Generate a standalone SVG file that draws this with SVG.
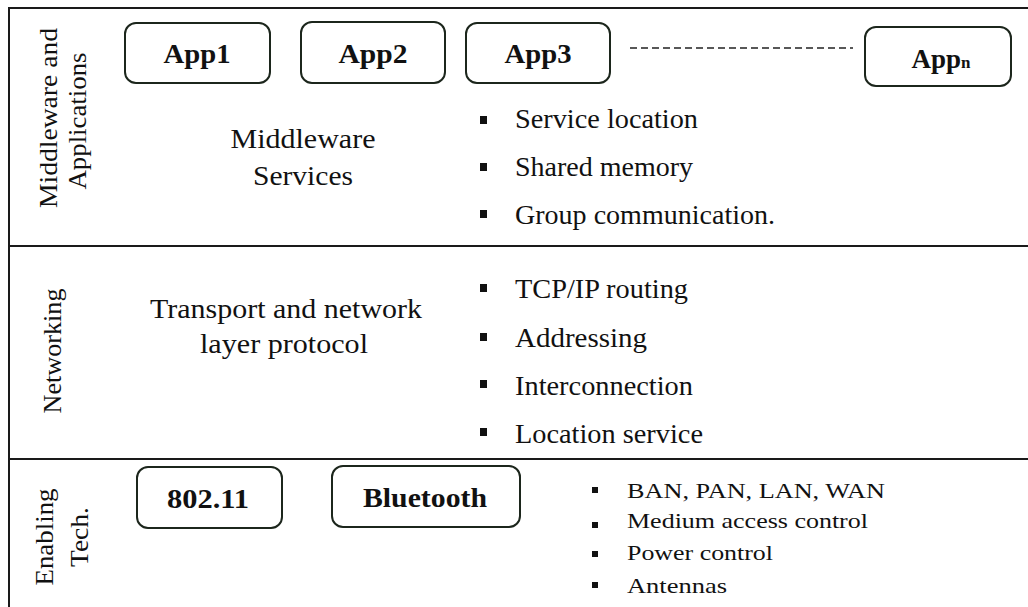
<svg xmlns="http://www.w3.org/2000/svg" width="1028" height="607" viewBox="0 0 1028 607">
  <defs>
    <style>
      .frame { stroke: #1a1a1a; stroke-width: 2; fill: none; }
      .box { fill: #ffffff; stroke: #1c261c; stroke-width: 2; }
      .serif { font-family: 'Liberation Serif', 'Times New Roman', serif; fill: #111; }
      .boxlabel { font-weight: bold; font-size: 27px; text-anchor: middle; }
      .side { font-size: 25px; text-anchor: middle; }
      .body { font-size: 26.5px; }
      .center { text-anchor: middle; }
      .small { font-size: 22px; }
      .bullet { fill: #111; }
      .dash { stroke: #222; stroke-width: 1.6; stroke-dasharray: 7 4; fill: none; }
    </style>
  </defs>
  <rect width="1028" height="607" fill="#ffffff"/>

  <!-- layer frame and dividers -->
  <g id="frame">
    <path class="frame" d="M9 607 V8 H1028"/>
    <line class="frame" x1="9" y1="246" x2="1028" y2="246" stroke-width="2.4"/>
    <line class="frame" x1="9" y1="459" x2="1028" y2="459" stroke-width="2.4"/>
  </g>

  <!-- layer titles (vertical) -->
  <g id="layer-titles" class="serif">
    <text class="side" transform="translate(57,118) rotate(-90)" textLength="180" lengthAdjust="spacingAndGlyphs">Middleware and</text>
    <text class="side" transform="translate(86,121) rotate(-90)" textLength="137" lengthAdjust="spacingAndGlyphs">Applications</text>
    <text class="side" transform="translate(61,351) rotate(-90)" textLength="125" lengthAdjust="spacingAndGlyphs">Networking</text>
    <text class="side" transform="translate(53,537) rotate(-90)" textLength="97" lengthAdjust="spacingAndGlyphs">Enabling</text>
    <text class="side" transform="translate(88,537) rotate(-90)" textLength="60" lengthAdjust="spacingAndGlyphs">Tech.</text>
  </g>

  <!-- application boxes -->
  <g id="app1" class="serif">
    <rect class="box" x="125" y="23" width="145" height="60" rx="11"/>
    <text class="boxlabel" x="197" y="63" textLength="67" lengthAdjust="spacingAndGlyphs">App1</text>
  </g>
  <g id="app2" class="serif">
    <rect class="box" x="301" y="22" width="144" height="61" rx="11"/>
    <text class="boxlabel" x="373" y="63" textLength="69" lengthAdjust="spacingAndGlyphs">App2</text>
  </g>
  <g id="app3" class="serif">
    <rect class="box" x="466" y="23" width="144" height="60" rx="11"/>
    <text class="boxlabel" x="538" y="63" textLength="67" lengthAdjust="spacingAndGlyphs">App3</text>
  </g>
  <g id="appn" class="serif">
    <rect class="box" x="865" y="27" width="146" height="59" rx="11"/>
    <text class="boxlabel" x="941" y="68">App<tspan font-size="17">n</tspan></text>
  </g>

  <!-- ellipsis between App3 and Appn -->
  <g id="connectors">
    <line class="dash" x1="630" y1="48" x2="853" y2="48"/>
  </g>

  <!-- middleware services -->
  <g id="middleware-services" class="serif">
    <text class="body center" x="303" y="148" textLength="145" lengthAdjust="spacingAndGlyphs">Middleware</text>
    <text class="body center" x="303" y="185" textLength="100" lengthAdjust="spacingAndGlyphs">Services</text>
  </g>
  <g id="middleware-list" class="serif">
    <rect class="bullet" x="480" y="116" width="7" height="8"/>
    <rect class="bullet" x="480" y="163" width="7" height="8"/>
    <rect class="bullet" x="480" y="210" width="7" height="8"/>
    <text class="body" x="515" y="128" textLength="183" lengthAdjust="spacingAndGlyphs">Service location</text>
    <text class="body" x="515" y="176" textLength="178" lengthAdjust="spacingAndGlyphs">Shared memory</text>
    <text class="body" x="515" y="224" textLength="260" lengthAdjust="spacingAndGlyphs">Group communication.</text>
  </g>

  <!-- networking layer -->
  <g id="transport-protocol" class="serif">
    <text class="body center" x="286" y="318" textLength="272" lengthAdjust="spacingAndGlyphs">Transport and network</text>
    <text class="body center" x="284" y="353" textLength="168" lengthAdjust="spacingAndGlyphs">layer protocol</text>
  </g>
  <g id="networking-list" class="serif">
    <rect class="bullet" x="480" y="284" width="7" height="8"/>
    <rect class="bullet" x="480" y="333" width="7" height="8"/>
    <rect class="bullet" x="480" y="380" width="7" height="8"/>
    <rect class="bullet" x="480" y="428" width="7" height="8"/>
    <text class="body" x="515" y="298" textLength="173" lengthAdjust="spacingAndGlyphs">TCP/IP routing</text>
    <text class="body" x="515" y="347" textLength="132" lengthAdjust="spacingAndGlyphs">Addressing</text>
    <text class="body" x="515" y="395" textLength="178" lengthAdjust="spacingAndGlyphs">Interconnection</text>
    <text class="body" x="515" y="443" textLength="188" lengthAdjust="spacingAndGlyphs">Location service</text>
  </g>

  <!-- enabling technologies -->
  <g id="ieee80211" class="serif">
    <rect class="box" x="137" y="467" width="145" height="61" rx="11"/>
    <text class="boxlabel" x="208" y="508" textLength="82" lengthAdjust="spacingAndGlyphs">802.11</text>
  </g>
  <g id="bluetooth" class="serif">
    <rect class="box" x="332" y="466" width="188" height="61" rx="11"/>
    <text class="boxlabel" x="425" y="507" textLength="124" lengthAdjust="spacingAndGlyphs">Bluetooth</text>
  </g>
  <g id="enabling-list" class="serif">
    <rect class="bullet" x="592" y="487" width="6" height="6"/>
    <rect class="bullet" x="592" y="522" width="6" height="6"/>
    <rect class="bullet" x="592" y="551" width="6" height="6"/>
    <rect class="bullet" x="592" y="582" width="6" height="6"/>
    <text class="small" x="627" y="498" textLength="258" lengthAdjust="spacingAndGlyphs">BAN, PAN, LAN, WAN</text>
    <text class="small" x="627" y="528" textLength="241" lengthAdjust="spacingAndGlyphs">Medium access control</text>
    <text class="small" x="627" y="560" textLength="146" lengthAdjust="spacingAndGlyphs">Power control</text>
    <text class="small" x="627" y="593" textLength="100" lengthAdjust="spacingAndGlyphs">Antennas</text>
  </g>
</svg>
